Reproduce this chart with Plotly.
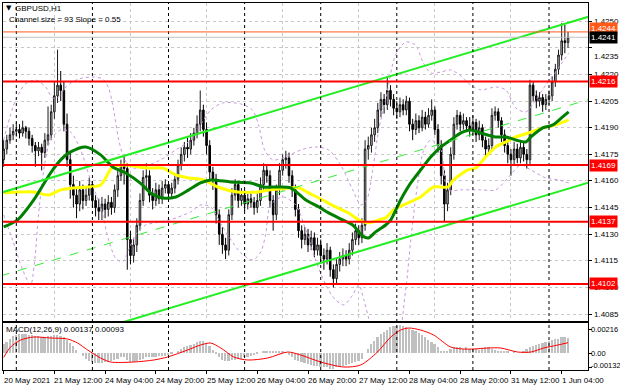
import plotly.graph_objects as go

# ---------------- data ----------------
bar_index = list(range(-4, 175))          # hourly bars, 0 = 21 May 00:00
first_open = 1.4172
close = [
    1.4178, 1.4183, 1.4186, 1.4188,
    1.4189, 1.4187, 1.4190, 1.4188, 1.4184, 1.4180, 1.4177, 1.4179, 1.4176, 1.4183,
    1.4186, 1.4199, 1.4208, 1.4214, 1.4211, 1.4192, 1.4172, 1.4158, 1.4152, 1.4147,
    1.4155, 1.4149, 1.4152, 1.4158, 1.4149, 1.4145, 1.4143, 1.4147, 1.4144, 1.4148,
    1.4145, 1.4155, 1.4163, 1.4169, 1.4167, 1.4127, 1.4118, 1.4124, 1.4135, 1.4149,
    1.4162, 1.4163, 1.4152, 1.4149, 1.4155, 1.4150, 1.4156, 1.4158, 1.4153, 1.4156,
    1.4161, 1.4169, 1.4175, 1.4179, 1.4178, 1.4183, 1.4187, 1.4192, 1.4200, 1.4189,
    1.4180, 1.4165, 1.4161, 1.4141, 1.4130, 1.4124, 1.4121, 1.4141, 1.4152, 1.4158,
    1.4149, 1.4152, 1.4147, 1.4150, 1.4148, 1.4145, 1.4149, 1.4158, 1.4166, 1.4163,
    1.4149, 1.4141, 1.4155, 1.4166, 1.4172, 1.4173, 1.4163, 1.4155, 1.4144, 1.4132,
    1.4127, 1.4130, 1.4124, 1.4128, 1.4121, 1.4124, 1.4118, 1.4116, 1.4121, 1.4110,
    1.4105, 1.4113, 1.4116, 1.4118, 1.4116, 1.4121, 1.4127, 1.4132, 1.4128, 1.4135,
    1.4178, 1.4180, 1.4186, 1.4190, 1.4200, 1.4206, 1.4203, 1.4211, 1.4206, 1.4201,
    1.4199, 1.4203, 1.4200, 1.4205, 1.4192, 1.4189, 1.4194, 1.4190, 1.4196, 1.4192,
    1.4197, 1.4200, 1.4189, 1.4180, 1.4163, 1.4147, 1.4155, 1.4175, 1.4192, 1.4197,
    1.4192, 1.4194, 1.4191, 1.4189, 1.4193, 1.4186, 1.4190, 1.4183, 1.4178, 1.4180,
    1.4197, 1.4199, 1.4194, 1.4186, 1.4180, 1.4175, 1.4172, 1.4178, 1.4173, 1.4179,
    1.4175, 1.4172, 1.4214, 1.4208, 1.4205, 1.4207, 1.4203, 1.4206, 1.4208, 1.4216,
    1.4223, 1.4231, 1.4239, 1.4238, 1.4241,
]
high = [
    1.4183, 1.4186, 1.4190, 1.4192,
    1.4193, 1.4192, 1.4194, 1.4191, 1.4190, 1.4186, 1.4182, 1.4182, 1.4181, 1.4187,
    1.4202, 1.4203, 1.4216, 1.4234, 1.4222, 1.4216, 1.4198, 1.4176, 1.4163, 1.4156,
    1.4160, 1.4158, 1.4156, 1.4162, 1.4160, 1.4152, 1.4150, 1.4151, 1.4150, 1.4152,
    1.4151, 1.4158, 1.4166, 1.4172, 1.4174, 1.4170, 1.4132, 1.4128, 1.4139, 1.4153,
    1.4166, 1.4170, 1.4166, 1.4156, 1.4159, 1.4158, 1.4160, 1.4161, 1.4160, 1.4159,
    1.4164, 1.4172, 1.4179, 1.4182, 1.4185, 1.4187, 1.4190, 1.4197, 1.4211, 1.4203,
    1.4193, 1.4183, 1.4168, 1.4164, 1.4144, 1.4134, 1.4128, 1.4144, 1.4156, 1.4161,
    1.4160, 1.4156, 1.4155, 1.4154, 1.4153, 1.4151, 1.4153, 1.4162, 1.4170, 1.4169,
    1.4166, 1.4152, 1.4158, 1.4170, 1.4175, 1.4177, 1.4176, 1.4166, 1.4158, 1.4147,
    1.4135, 1.4134, 1.4133, 1.4132, 1.4131, 1.4128, 1.4127, 1.4122, 1.4125, 1.4123,
    1.4113, 1.4116, 1.4120, 1.4122, 1.4121, 1.4125, 1.4131, 1.4136, 1.4135, 1.4139,
    1.4183, 1.4185, 1.4190, 1.4195, 1.4204, 1.4210, 1.4209, 1.4219, 1.4214, 1.4209,
    1.4205, 1.4207, 1.4206, 1.4208, 1.4207, 1.4195, 1.4198, 1.4197, 1.4200, 1.4199,
    1.4201, 1.4206, 1.4202, 1.4192, 1.4183, 1.4166, 1.4159, 1.4179, 1.4196, 1.4200,
    1.4199, 1.4198, 1.4196, 1.4196, 1.4197, 1.4195, 1.4194, 1.4192, 1.4185, 1.4184,
    1.4201, 1.4202, 1.4201, 1.4196, 1.4189, 1.4183, 1.4178, 1.4182, 1.4181, 1.4183,
    1.4182, 1.4178, 1.4217, 1.4216, 1.4211, 1.4210, 1.4209, 1.4209, 1.4211, 1.4219,
    1.4226, 1.4234, 1.4249, 1.4248, 1.4244,
]
low = [
    1.4168, 1.4175, 1.4181, 1.4183,
    1.4185, 1.4184, 1.4185, 1.4184, 1.4180, 1.4176, 1.4168, 1.4174, 1.4166, 1.4173,
    1.4180, 1.4183, 1.4195, 1.4204, 1.4205, 1.4188, 1.4168, 1.4150, 1.4145, 1.4139,
    1.4143, 1.4144, 1.4146, 1.4149, 1.4145, 1.4140, 1.4138, 1.4138, 1.4139, 1.4140,
    1.4141, 1.4142, 1.4151, 1.4160, 1.4158, 1.4110, 1.4113, 1.4114, 1.4120, 1.4132,
    1.4146, 1.4156, 1.4148, 1.4144, 1.4146, 1.4147, 1.4147, 1.4153, 1.4150, 1.4150,
    1.4153, 1.4158, 1.4166, 1.4171, 1.4173, 1.4175, 1.4180, 1.4184, 1.4188, 1.4185,
    1.4175, 1.4161, 1.4155, 1.4136, 1.4124, 1.4119, 1.4116, 1.4118, 1.4138, 1.4149,
    1.4145, 1.4146, 1.4143, 1.4144, 1.4145, 1.4141, 1.4142, 1.4146, 1.4155, 1.4159,
    1.4145, 1.4132, 1.4138, 1.4152, 1.4163, 1.4167, 1.4159, 1.4151, 1.4140, 1.4128,
    1.4122, 1.4124, 1.4120, 1.4121, 1.4117, 1.4118, 1.4114, 1.4110, 1.4113, 1.4106,
    1.4100, 1.4102, 1.4109, 1.4112, 1.4112, 1.4113, 1.4118, 1.4124, 1.4124, 1.4125,
    1.4132, 1.4172, 1.4176, 1.4182, 1.4187, 1.4196, 1.4198, 1.4200, 1.4202, 1.4197,
    1.4195, 1.4196, 1.4197, 1.4197, 1.4188, 1.4183, 1.4186, 1.4187, 1.4188, 1.4189,
    1.4190, 1.4194, 1.4186, 1.4176, 1.4158, 1.4137, 1.4143, 1.4152, 1.4172, 1.4189,
    1.4188, 1.4189, 1.4188, 1.4185, 1.4186, 1.4182, 1.4183, 1.4179, 1.4173, 1.4175,
    1.4177, 1.4194, 1.4190, 1.4182, 1.4176, 1.4170, 1.4163, 1.4169, 1.4170, 1.4170,
    1.4171, 1.4167, 1.4169, 1.4205, 1.4201, 1.4202, 1.4199, 1.4200, 1.4203, 1.4205,
    1.4213, 1.4220, 1.4228, 1.4232, 1.4235,
]
open_ = [first_open] + close[:-1]

macd_main = [
    0.0008, 0.0010, 0.0013, 0.0015, 0.0016,
    0.0017, 0.0017, 0.0017, 0.0016, 0.0016,
    0.0015, 0.0015, 0.0014, 0.0014, 0.0015, 0.0015,
    0.0016, 0.0016, 0.0015, 0.0014, 0.0012,
    0.0009, 0.0006, 0.0003,
    0.0000, -0.0003, -0.0005, -0.0007, -0.0008,
    -0.0009, -0.0009, -0.0009, -0.0008, -0.0008, -0.0007, -0.0006, -0.0005, -0.0004,
    -0.0004, -0.0006, -0.0008, -0.0008, -0.0007, -0.0006, -0.0005,
    -0.0004, -0.0004, -0.0004, -0.0004, -0.0003, -0.0003, -0.0003, -0.0002,
    -0.0001, 0.0000, 0.0002, 0.0004, 0.0005, 0.0006, 0.0007,
    0.0008, 0.0010, 0.0011, 0.0011, 0.0009, 0.0006, 0.0003,
    -0.0001, -0.0004, -0.0006, -0.0007, -0.0007, -0.0006, -0.0006, -0.0005,
    -0.0005, -0.0004, -0.0004, -0.0003, -0.0002, -0.0001, 0.0000, 0.0001, 0.0001, 0.0001, 0.0002, 0.0002,
    0.0002, 0.0001, 0.0000, -0.0002, -0.0004, -0.0006, -0.0007, -0.0008,
    -0.0009, -0.0010, -0.0011, -0.0012, -0.0012, -0.0013, -0.0013, -0.0013, -0.0014,
    -0.0014, -0.0013, -0.0013, -0.0012, -0.0011, -0.0010, -0.0009, -0.0008, -0.0007,
    -0.0005, 0.0000, 0.0004, 0.0008, 0.0011, 0.0014, 0.0017, 0.0019,
    0.0021, 0.0023, 0.0024, 0.0024, 0.0025, 0.0024, 0.0023, 0.0022,
    0.0021, 0.0020, 0.0018, 0.0016, 0.0014, 0.0012, 0.0010, 0.0008, 0.0005, 0.0002, 0.0001,
    0.0002, 0.0004, 0.0005, 0.0005, 0.0005, 0.0004, 0.0005, 0.0004, 0.0004, 0.0004,
    0.0003, 0.0004, 0.0005, 0.0005, 0.0004, 0.0003, 0.0002, 0.0002, 0.0001, 0.0001,
    0.0000, 0.0001, 0.0000, 0.0000, 0.0001,
    0.0004, 0.0005, 0.0006, 0.0007, 0.0008, 0.0009, 0.0010, 0.0011, 0.0012, 0.0013,
    0.0013, 0.0014, 0.0014, 0.00137,
]
signal_idx = [-4, -1.8, 1.4, 5.5, 10.8, 16.2, 19.3, 22.5, 26.6, 29.7, 37.0, 43.3, 47.7,
              54.0, 58.1, 61.3, 64.5, 68.6, 73.0, 79.3, 85.6, 89.7, 96.0, 103.3, 108.6,
              113.9, 118.1, 121.2, 123.8, 127.5, 131.6, 137.0, 141.1, 144.3, 148.7,
              152.8, 158.1, 162.3, 166.3, 170.8, 174]
signal_val = [-0.0004, 0.00054, 0.00117, 0.00144, 0.00135, 0.00126, 0.0009, 0.00027,
              -0.00045, -0.00081, -0.00081, -0.00063, -0.00036, 0.00027, 0.00072, 0.0009,
              0.00045, -0.00036, -0.00063, -0.00045, 0.00009, -0.00018, -0.00081, -0.00126,
              -0.00108, 0.00009, 0.00144, 0.00207, 0.00225, 0.00207, 0.00162, 0.00054,
              0.00036, 0.00036, 0.00045, 0.00045, 0.00009, 0.00009, 0.00045, 0.00072, 0.00093]

ma_green_idx = [-4, 0.4, 5.5, 10.8, 14.0, 17.1, 21.9, 26.6, 30.4, 34.5, 39.2, 42.4, 46.2,
                50.3, 54.4, 58.1, 61.3, 67.6, 73.9, 78.0, 82.4, 86.5, 91.3, 95.4, 98.5,
                102.9, 106.1, 109.2, 111.1, 113.3, 116.5, 118.1, 121.2, 124.4, 127.5,
                130.7, 133.9, 137.0, 140.2, 143.3, 146.5, 151.2, 154.4, 157.5, 160.7,
                162.3, 166.0, 169.2, 172.3, 174.2]
ma_green_val = [1.41341, 1.41381, 1.41493, 1.41645, 1.41719, 1.41764, 1.41792, 1.41747,
                1.41679, 1.41645, 1.41587, 1.41533, 1.41504, 1.41510, 1.41550, 1.41589,
                1.41606, 1.41595, 1.41589, 1.41566, 1.41566, 1.41561, 1.41493, 1.41454,
                1.41420, 1.41381, 1.41352, 1.41290, 1.41279, 1.41313, 1.41352, 1.41381,
                1.41493, 1.41589, 1.41662, 1.41735, 1.41792, 1.41831, 1.41871, 1.41888,
                1.41871, 1.41848, 1.41848, 1.41831, 1.41820, 1.41848, 1.41899, 1.41916,
                1.41961, 1.41989]
ma_yellow_idx = [-4, 1.4, 5.5, 10.2, 14.0, 18.1, 22.5, 26.6, 30.4, 34.5, 38.6, 41.7, 46.2,
                 50.3, 54.4, 59.1, 63.5, 69.8, 76.1, 80.2, 86.5, 89.1, 92.2, 96.6, 100.7,
                 104.8, 108.0, 111.1, 114.3, 116.5, 119.0, 123.4, 127.5, 131.6, 136.1,
                 137.9, 142.4, 144.9, 148.0, 151.2, 154.4, 157.5, 161.6, 166.0, 170.1, 174.2]
ma_yellow_val = [1.41533, 1.41538, 1.41538, 1.41521, 1.41550, 1.41561, 1.41566, 1.41578,
                 1.41679, 1.41690, 1.41679, 1.41673, 1.41673, 1.41634, 1.41617, 1.41606,
                 1.41566, 1.41538, 1.41538, 1.41550, 1.41561, 1.41561, 1.41533, 1.41493,
                 1.41454, 1.41420, 1.41381, 1.41364, 1.41381, 1.41392, 1.41437, 1.41476,
                 1.41510, 1.41566, 1.41566, 1.41606, 1.41662, 1.41673, 1.41735, 1.41792,
                 1.41820, 1.41848, 1.41871, 1.41899, 1.41916, 1.41944]

band_up_idx = [-4.0, -0.2, 2.9, 6.1, 9.2, 11.5, 13.3, 15.9, 19.7, 24.1, 27.2, 29.1, 30.7,
               32.3, 34.2, 36.7, 40.8, 45.5, 50.3, 55.0, 58.1, 61.3, 65.1, 70.8, 74.5,
               76.4, 78.3, 80.9, 84.9, 89.7, 94.4, 98.5, 102.3, 106.1, 108.6, 110.5,
               112.4, 114.3, 116.5, 119.6, 122.8, 125.9, 128.2, 130.7, 133.9, 137.0,
               140.2, 143.3, 146.5, 151.2, 154.4, 157.5, 160.7, 163.8, 167.0, 170.1, 174.2]
band_up_val = [1.41831, 1.42057, 1.42147, 1.42169, 1.42130, 1.42068, 1.42074, 1.42135,
               1.42175, 1.42186, 1.42175, 1.42124, 1.42000, 1.41831, 1.41719, 1.41673,
               1.41685, 1.41719, 1.41775, 1.41831, 1.41916, 1.42000, 1.42040, 1.42034,
               1.42000, 1.41916, 1.41775, 1.41719, 1.41735, 1.41775, 1.41792, 1.41775,
               1.41690, 1.41550, 1.41465, 1.41493, 1.41662, 1.41888, 1.42057, 1.42310,
               1.42383, 1.42366, 1.42271, 1.42209, 1.42214, 1.42226, 1.42192, 1.42141,
               1.42113, 1.42130, 1.42113, 1.42012, 1.41989, 1.42057, 1.42141, 1.42214,
               1.42321]
band_lo_idx = [-4.0, -1.2, 2.0, 4.5, 5.8, 7.0, 8.9, 10.8, 14.0, 17.1, 20.3, 23.4, 26.6,
               29.1, 31.3, 33.5, 35.4, 37.6, 40.8, 45.5, 50.3, 55.0, 58.1, 61.3, 65.1,
               70.8, 74.5, 77.1, 78.6, 80.2, 84.0, 88.1, 91.3, 94.4, 97.6, 100.7, 103.3,
               106.1, 108.0, 109.6, 111.8, 114.9, 119.6, 122.8, 124.4, 126.6, 128.5,
               130.7, 133.9, 136.1, 140.2, 146.5, 151.2, 155.3, 159.1, 162.3, 167.0,
               171.1, 174.2]
band_lo_val = [1.41409, 1.41268, 1.41099, 1.41014, 1.41155, 1.41409, 1.41690, 1.41831,
               1.41888, 1.41876, 1.41775, 1.41606, 1.41454, 1.41268, 1.41166, 1.41144,
               1.41212, 1.41296, 1.41352, 1.41369, 1.41392, 1.41426, 1.41465, 1.41454,
               1.41341, 1.41195, 1.41155, 1.41200, 1.41296, 1.41465, 1.41510, 1.41465,
               1.41324, 1.41155, 1.41014, 1.40930, 1.40902, 1.40958, 1.41014, 1.40930,
               1.40789, 1.40680, 1.40680, 1.40986, 1.41268, 1.41589, 1.41775, 1.41831,
               1.41775, 1.41550, 1.41550, 1.41550, 1.41550, 1.41623, 1.41690, 1.41662,
               1.41617, 1.41606, 1.41589]

channel_idx = [-4.95, 180.5]
channel_upper = [1.41533, 1.42526]
channel_mid = [1.41065, 1.42059]
channel_lower = [1.40598, 1.41591]

levels = [1.4216, 1.4169, 1.4137, 1.4102]
level_labels = ["1.4216", "1.4169", "1.4137", "1.4102"]
bid_price, bid_label = 1.4241, "1.4241"
ask_price, ask_label = 1.4244, "1.4244"

price_ticks = [1.4250, 1.4235, 1.4220, 1.4205, 1.4190, 1.4175, 1.4160, 1.4145,
               1.4130, 1.4115, 1.4100, 1.4085]
price_tick_labels = ["1.4250", "1.4235", "1.4220", "1.4205", "1.4190", "1.4175", "1.4160",
                     "1.4145", "1.4130", "1.4115", "1.4100", "1.4085"]
time_label_idx = [-4, 12, 28, 44, 60, 76, 92, 108, 124, 140, 156, 172]
time_labels = ["20 May 2021", "21 May 12:00", "24 May 04:00", "24 May 20:00",
               "25 May 12:00", "26 May 04:00", "26 May 20:00", "27 May 12:00",
               "28 May 04:00", "28 May 20:00", "31 May 12:00", "1 Jun 04:00"]
day_sep_idx = [0, 24, 48, 72, 96, 120, 144, 168]
noon_idx = [12, 36, 60, 84, 108, 132, 156, 180]
macd_ticks = [0.00216, 0.0, -0.00132]
macd_tick_labels = ["0.00216", "0.00", "-0.00132"]

title_text = "GBPUSD,H1"
channel_text = "Channel size = 93 Slope = 0.55"
macd_text = "MACD(12,26,9) 0.00137 0.00093"

# ---------------- figure ----------------
FONT = "Liberation Sans"
fig = go.Figure()

# MACD panel
fig.add_trace(go.Bar(x=bar_index, y=macd_main, width=0.55, marker=dict(color="#c0c0c0", line=dict(width=0)),
                     xaxis="x2", yaxis="y2", hoverinfo="skip"))
fig.add_trace(go.Scatter(x=signal_idx, y=signal_val, mode="lines",
                         line=dict(color="#ff0000", width=1, shape="spline", smoothing=0.8),
                         xaxis="x2", yaxis="y2", hoverinfo="skip"))

# bands
for xi, yi in [(band_up_idx, band_up_val), (band_lo_idx, band_lo_val)]:
    fig.add_trace(go.Scatter(x=xi, y=yi, mode="lines",
                             line=dict(color="#c996dc", width=1, dash="dot", shape="spline", smoothing=0.8),
                             hoverinfo="skip"))

# candles
fig.add_trace(go.Candlestick(
    x=bar_index, open=open_, high=high, low=low, close=close,
    increasing=dict(fillcolor="#c4c4c4", line=dict(color="#1a1a1a", width=1)),
    decreasing=dict(fillcolor="#000000", line=dict(color="#000000", width=1)),
    whiskerwidth=0, hoverinfo="skip"))

# moving averages
fig.add_trace(go.Scatter(x=ma_yellow_idx, y=ma_yellow_val, mode="lines",
                         line=dict(color="#ffff00", width=3, shape="spline", smoothing=0.8), hoverinfo="skip"))
fig.add_trace(go.Scatter(x=ma_green_idx, y=ma_green_val, mode="lines",
                         line=dict(color="#008000", width=3, shape="spline", smoothing=0.8), hoverinfo="skip"))

# regression channel
fig.add_trace(go.Scatter(x=channel_idx, y=channel_mid, mode="lines",
                         line=dict(color="#33ee33", width=1, dash="dash"), hoverinfo="skip"))
for yy in (channel_upper, channel_lower):
    fig.add_trace(go.Scatter(x=channel_idx, y=yy, mode="lines",
                             line=dict(color="#22ee22", width=2), hoverinfo="skip"))

shapes = []
for d in day_sep_idx:
    shapes.append(dict(type="line", xref="x", yref="paper", x0=d, x1=d, y0=0, y1=1,
                       line=dict(color="#000000", width=1, dash="dot"), layer="above"))
for lv in levels:
    shapes.append(dict(type="line", xref="paper", yref="y", x0=0, x1=1, y0=lv, y1=lv,
                       line=dict(color="#ff0000", width=2), layer="above"))
shapes.append(dict(type="line", xref="paper", yref="y", x0=0, x1=1, y0=bid_price, y1=bid_price,
                   line=dict(color="#c0c0c0", width=1), layer="above"))
shapes.append(dict(type="line", xref="paper", yref="y", x0=0, x1=1, y0=ask_price, y1=ask_price,
                   line=dict(color="#ff5a1a", width=1), layer="above"))

ann = []
for v, t in zip(price_ticks, price_tick_labels):
    ann.append(dict(xref="paper", yref="y", x=1, y=v, text=t, showarrow=False, xanchor="left",
                    xshift=4, yshift=(-9 if t == "1.4235" else 0),
                    font=dict(family=FONT, size=8, color="#000000")))
ann.append(dict(xref="paper", yref="y", x=1, y=ask_price, text=ask_label, showarrow=False,
                xanchor="left", xshift=1, yshift=3, bgcolor="#ff5a1a", borderpad=1,
                font=dict(family=FONT, size=8, color="#ffffff")))
ann.append(dict(xref="paper", yref="y", x=1, y=bid_price, text=bid_label, showarrow=False,
                xanchor="left", xshift=1, bgcolor="#000000", borderpad=1,
                font=dict(family=FONT, size=8, color="#ffffff")))
for lv, t in zip(levels, level_labels):
    ann.append(dict(xref="paper", yref="y", x=1, y=lv, text=t, showarrow=False,
                    xanchor="left", xshift=1, bgcolor="#ff0000", borderpad=1,
                    font=dict(family=FONT, size=8, color="#ffffff")))
for v, t in zip(macd_ticks, macd_tick_labels):
    ann.append(dict(xref="paper", yref="y2", x=1, y=v, text=t, showarrow=False, xanchor="left",
                    xshift=1, yshift=(2 if v < 0 else 0),
                    font=dict(family=FONT, size=7.5, color="#000000")))
for xi, t in zip(time_label_idx, time_labels):
    ann.append(dict(xref="x2", yref="paper", x=xi, y=0, text=t, showarrow=False, xanchor="left",
                    yanchor="top", xshift=-2, yshift=-4,
                    font=dict(family=FONT, size=8, color="#000000")))
ann.append(dict(xref="paper", yref="paper", x=0, y=1, text="\u25bc", showarrow=False,
                xanchor="left", yanchor="top", xshift=1, yshift=1,
                font=dict(family="DejaVu Sans", size=7, color="#000000")))
ann.append(dict(xref="paper", yref="paper", x=0, y=1, text=title_text, showarrow=False,
                xanchor="left", yanchor="top", xshift=10, yshift=1,
                font=dict(family=FONT, size=8, color="#000000")))
ann.append(dict(xref="paper", yref="paper", x=0, y=1, text=channel_text, showarrow=False,
                xanchor="left", yanchor="top", xshift=4, yshift=-10,
                font=dict(family=FONT, size=8, color="#000000")))
ann.append(dict(xref="paper", yref="y2", x=0, y=0.00216, text=macd_text, showarrow=False,
                xanchor="left", xshift=1,
                font=dict(family=FONT, size=8, color="#000000")))

x_range = [-4.2, 180.3]
fig.update_layout(
    width=620, height=388, margin=dict(l=3, r=32, t=3, b=18),
    paper_bgcolor="#ffffff", plot_bgcolor="#ffffff", showlegend=False,
    bargap=0, shapes=shapes, annotations=ann,
    xaxis=dict(domain=[0, 1], anchor="y", range=x_range, tickvals=noon_idx, showticklabels=False,
               showgrid=True, gridcolor="#c8c8c8", griddash="dot", gridwidth=1, zeroline=False,
               showline=True, mirror=True, linecolor="#000000", linewidth=1, ticks="",
               rangeslider=dict(visible=False)),
    yaxis=dict(domain=[0.1335, 1], anchor="x", range=[1.40811, 1.42603], side="right",
               tickvals=price_ticks, showticklabels=False, showgrid=True, gridcolor="#c8c8c8",
               griddash="dot", zeroline=False, showline=True, mirror=True, linecolor="#000000",
               ticks="outside", ticklen=3, tickcolor="#000000"),
    xaxis2=dict(domain=[0, 1], anchor="y2", matches="x", range=x_range, tickvals=time_label_idx,
                showticklabels=False, ticks="outside", ticklen=3, tickcolor="#000000",
                showgrid=False, zeroline=False, showline=True, mirror=True, linecolor="#000000"),
    yaxis2=dict(domain=[0, 0.128], anchor="x2", range=[-0.00153, 0.0027], side="right",
                tickvals=macd_ticks, showticklabels=False, ticks="outside", ticklen=3,
                tickcolor="#000000", showgrid=False, zeroline=False, showline=True, mirror=True,
                linecolor="#000000"),
)

fig.write_html("out.html", config={"displayModeBar": False},
               post_script="document.body.style.margin='0';document.body.style.padding='0';")
